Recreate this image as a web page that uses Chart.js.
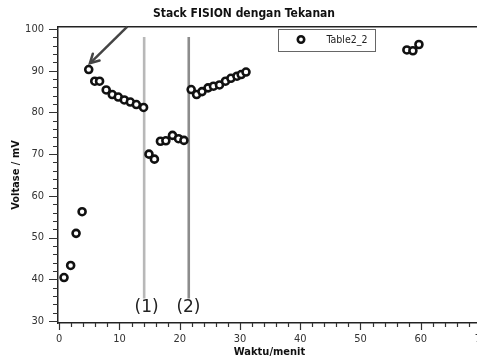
<!DOCTYPE html>
<html>
<head>
<meta charset="utf-8">
<title>Stack FISION dengan Tekanan</title>
<script src="https://cdn.jsdelivr.net/npm/chart.js@4.4.1/dist/chart.umd.min.js"></script>
<style>
    html, body { margin: 0; padding: 0; background: #fff; overflow: hidden; }
    #wrap { width: 488px; height: 363px; }
</style>
</head>
<body>
<div id="wrap"><canvas id="chart" width="488" height="363"></canvas></div>
<script>
    'use strict';

    // Data
    const timeMin = [0.8, 1.9, 2.8, 3.8, 4.9, 5.9, 6.7, 7.8, 8.8, 9.8, 10.8, 11.8, 12.8, 14.0,
        14.9, 15.8, 16.8, 17.7, 18.8, 19.8, 20.7,
        21.9, 22.8, 23.7, 24.7, 25.6, 26.6, 27.6, 28.5, 29.5, 30.2, 31.0,
        57.7, 58.7, 59.7];
    const voltage = [40.4, 43.3, 51.0, 56.2, 90.3, 87.5, 87.5, 85.4, 84.3, 83.7, 83.0, 82.5, 81.9, 81.2,
        70.0, 68.8, 73.1, 73.2, 74.5, 73.7, 73.3,
        85.5, 84.3, 85.0, 85.9, 86.3, 86.6, 87.5, 88.2, 88.7, 89.1, 89.7,
        95.0, 94.8, 96.3];
    const seriesLabel = 'Table2_2';

    // Axis ticks
    const xTicks = [0, 2, 4, 6, 8, 10, 12, 14, 16, 18, 20, 22, 24, 26, 28, 30, 32, 34, 36, 38, 40,
        42, 44, 46, 48, 50, 52, 54, 56, 58, 60, 62, 64, 66, 68, 70];
    const yTicks = [30, 32, 34, 36, 38, 40, 42, 44, 46, 48, 50, 52, 54, 56, 58, 60, 62, 64, 66, 68, 70,
        72, 74, 76, 78, 80, 82, 84, 86, 88, 90, 92, 94, 96, 98, 100];

    // Annotations: two marker lines, their labels and the arrow
    const markerX = [14.1, 21.5];
    const markerTop = [98.1, 98.1];
    const markerBottom = [35.4, 35.4];
    const markerLabels = ['(1)', '(2)'];
    const markerLabelX = [14.5, 21.45];
    const markerLabelY = [33.1, 33.1];
    const arrowX = [11.3, 5.1];
    const arrowY = [100.6, 91.8];

    const UI_FONT = "'DejaVu Sans Condensed', 'DejaVu Sans', sans-serif";

    // Tick marks: major every 10, minor every 2
    const tickMarks = {
        id: 'tickMarks',
        afterDraw(chart) {
            const ctx = chart.ctx;
            const xs = chart.scales.x;
            const ys = chart.scales.y;
            ctx.save();
            ctx.strokeStyle = '#333';
            ctx.lineWidth = 1.2;
            ctx.beginPath();
            xTicks.forEach(v => {
                const px = Math.round(xs.getPixelForValue(v)) + 0.5;
                const len = v % 10 === 0 ? 7 : 4;
                ctx.moveTo(px, xs.top);
                ctx.lineTo(px, xs.top + len);
            });
            yTicks.forEach(v => {
                const py = Math.round(ys.getPixelForValue(v)) + 0.5;
                const len = v % 10 === 0 ? 9 : 5;
                ctx.moveTo(ys.right, py);
                ctx.lineTo(ys.right - len, py);
            });
            ctx.stroke();
            ctx.restore();
        }
    };

    // Marker labels and arrow head
    const annotations = {
        id: 'annotations',
        afterDatasetsDraw(chart) {
            const ctx = chart.ctx;
            const xs = chart.scales.x;
            const ys = chart.scales.y;
            ctx.save();
            ctx.fillStyle = '#222';
            ctx.font = "17px 'DejaVu Sans', sans-serif";
            ctx.textAlign = 'center';
            ctx.textBaseline = 'middle';
            markerLabels.forEach((t, i) => {
                ctx.fillText(t, xs.getPixelForValue(markerLabelX[i]), ys.getPixelForValue(markerLabelY[i]));
            });

            // arrow head at the end of the arrow dataset
            const meta = chart.getDatasetMeta(chart.data.datasets.length - 1);
            const p0 = meta.data[0];
            const p1 = meta.data[1];
            const ang = Math.atan2(p1.y - p0.y, p1.x - p0.x);
            const len = 10;
            ctx.strokeStyle = '#444';
            ctx.lineWidth = 2.5;
            ctx.lineCap = 'round';
            ctx.beginPath();
            ctx.moveTo(p1.x - len * Math.cos(ang - 0.5), p1.y - len * Math.sin(ang - 0.5));
            ctx.lineTo(p1.x, p1.y);
            ctx.lineTo(p1.x - len * Math.cos(ang + 0.5), p1.y - len * Math.sin(ang + 0.5));
            ctx.stroke();
            ctx.restore();
        }
    };

    // Boxed legend inside the plot
    const boxLegend = {
        id: 'boxLegend',
        afterDraw(chart) {
            const ctx = chart.ctx;
            const area = chart.chartArea;
            const left = area.left + 220.5;
            const top = area.top + 2.5;
            ctx.save();
            ctx.fillStyle = '#fff';
            ctx.fillRect(left, top, 97, 22);
            ctx.strokeStyle = '#666';
            ctx.lineWidth = 1;
            ctx.strokeRect(left, top, 97, 22);
            ctx.beginPath();
            ctx.arc(left + 22.5, top + 10, 3.2, 0, Math.PI * 2);
            ctx.strokeStyle = '#111';
            ctx.lineWidth = 2.6;
            ctx.stroke();
            ctx.fillStyle = '#222';
            ctx.font = '10.5px ' + UI_FONT;
            ctx.textBaseline = 'middle';
            ctx.fillText(chart.data.datasets[0].label, left + 48, top + 10.5);
            ctx.restore();
        }
    };

    const points = timeMin.map((t, i) => ({ x: t, y: voltage[i] }));

    const markerSets = markerX.map((mx, i) => ({
        label: 'marker' + (i + 1),
        type: 'line',
        data: [{ x: mx, y: markerBottom[i] }, { x: mx, y: markerTop[i] }],
        borderColor: i === 0 ? '#b8b8b8' : '#8c8c8c',
        borderWidth: 2.6,
        pointRadius: 0,
        fill: false
    }));

    const arrowSet = {
        label: 'arrow',
        type: 'line',
        data: arrowX.map((x, i) => ({ x: x, y: arrowY[i] })),
        borderColor: '#444',
        borderWidth: 2.5,
        pointRadius: 0,
        fill: false,
        clip: false
    };

    new Chart(document.getElementById('chart'), {
        type: 'scatter',
        data: {
            datasets: [
                {
                    label: seriesLabel,
                    data: points,
                    pointRadius: 3.5,
                    pointBorderWidth: 2.6,
                    pointBorderColor: '#111',
                    pointBackgroundColor: '#fff',
                    showLine: false
                },
                ...markerSets,
                arrowSet
            ]
        },
        options: {
            responsive: false,
            animation: false,
            layout: { padding: 0 },
            plugins: {
                legend: { display: false },
                tooltip: { enabled: false },
                title: {
                    display: true,
                    text: 'Stack FISION dengan Tekanan',
                    color: '#111',
                    font: { family: UI_FONT, size: 12, weight: 'bold' },
                    padding: { top: 7, bottom: 5.6 }
                }
            },
            scales: {
                x: {
                    type: 'linear',
                    min: -0.2,
                    max: 70,
                    afterBuildTicks: s => { s.ticks = xTicks.map(v => ({ value: v })); },
                    afterFit: s => { s.height = 40; s.paddingRight = 7; },
                    grid: { display: false, drawTicks: false },
                    border: { display: true, color: '#222', width: 1.5 },
                    ticks: {
                        autoSkip: false,
                        maxRotation: 0,
                        padding: 10,
                        color: '#333',
                        font: { family: UI_FONT, size: 11 },
                        callback: v => (v % 10 === 0 ? v : '')
                    },
                    title: {
                        display: true,
                        text: 'Waktu/menit',
                        color: '#111',
                        font: { family: UI_FONT, size: 11, weight: 'bold' },
                        padding: { top: 0, bottom: 4 }
                    }
                },
                xTop: {
                    type: 'linear',
                    position: 'top',
                    min: -0.2,
                    max: 70,
                    afterFit: s => { s.height = 0; },
                    grid: { display: false, drawTicks: false },
                    border: { display: true, color: '#222', width: 1.5 },
                    ticks: { display: false }
                },
                y: {
                    type: 'linear',
                    min: 29.5,
                    max: 100.5,
                    afterBuildTicks: s => { s.ticks = yTicks.map(v => ({ value: v })); },
                    afterFit: s => { s.width = 58; },
                    grid: { display: false, drawTicks: false },
                    border: { display: true, color: '#222', width: 1.5 },
                    ticks: {
                        autoSkip: false,
                        padding: 14,
                        color: '#333',
                        font: { family: UI_FONT, size: 11 },
                        callback: v => (v % 10 === 0 ? v : '')
                    },
                    title: {
                        display: true,
                        text: 'Voltase / mV',
                        color: '#111',
                        font: { family: UI_FONT, size: 11, weight: 'bold' },
                        padding: { top: 10, bottom: 0 }
                    }
                }
            }
        },
        plugins: [tickMarks, annotations, boxLegend]
    });
</script>
</body>
</html>
